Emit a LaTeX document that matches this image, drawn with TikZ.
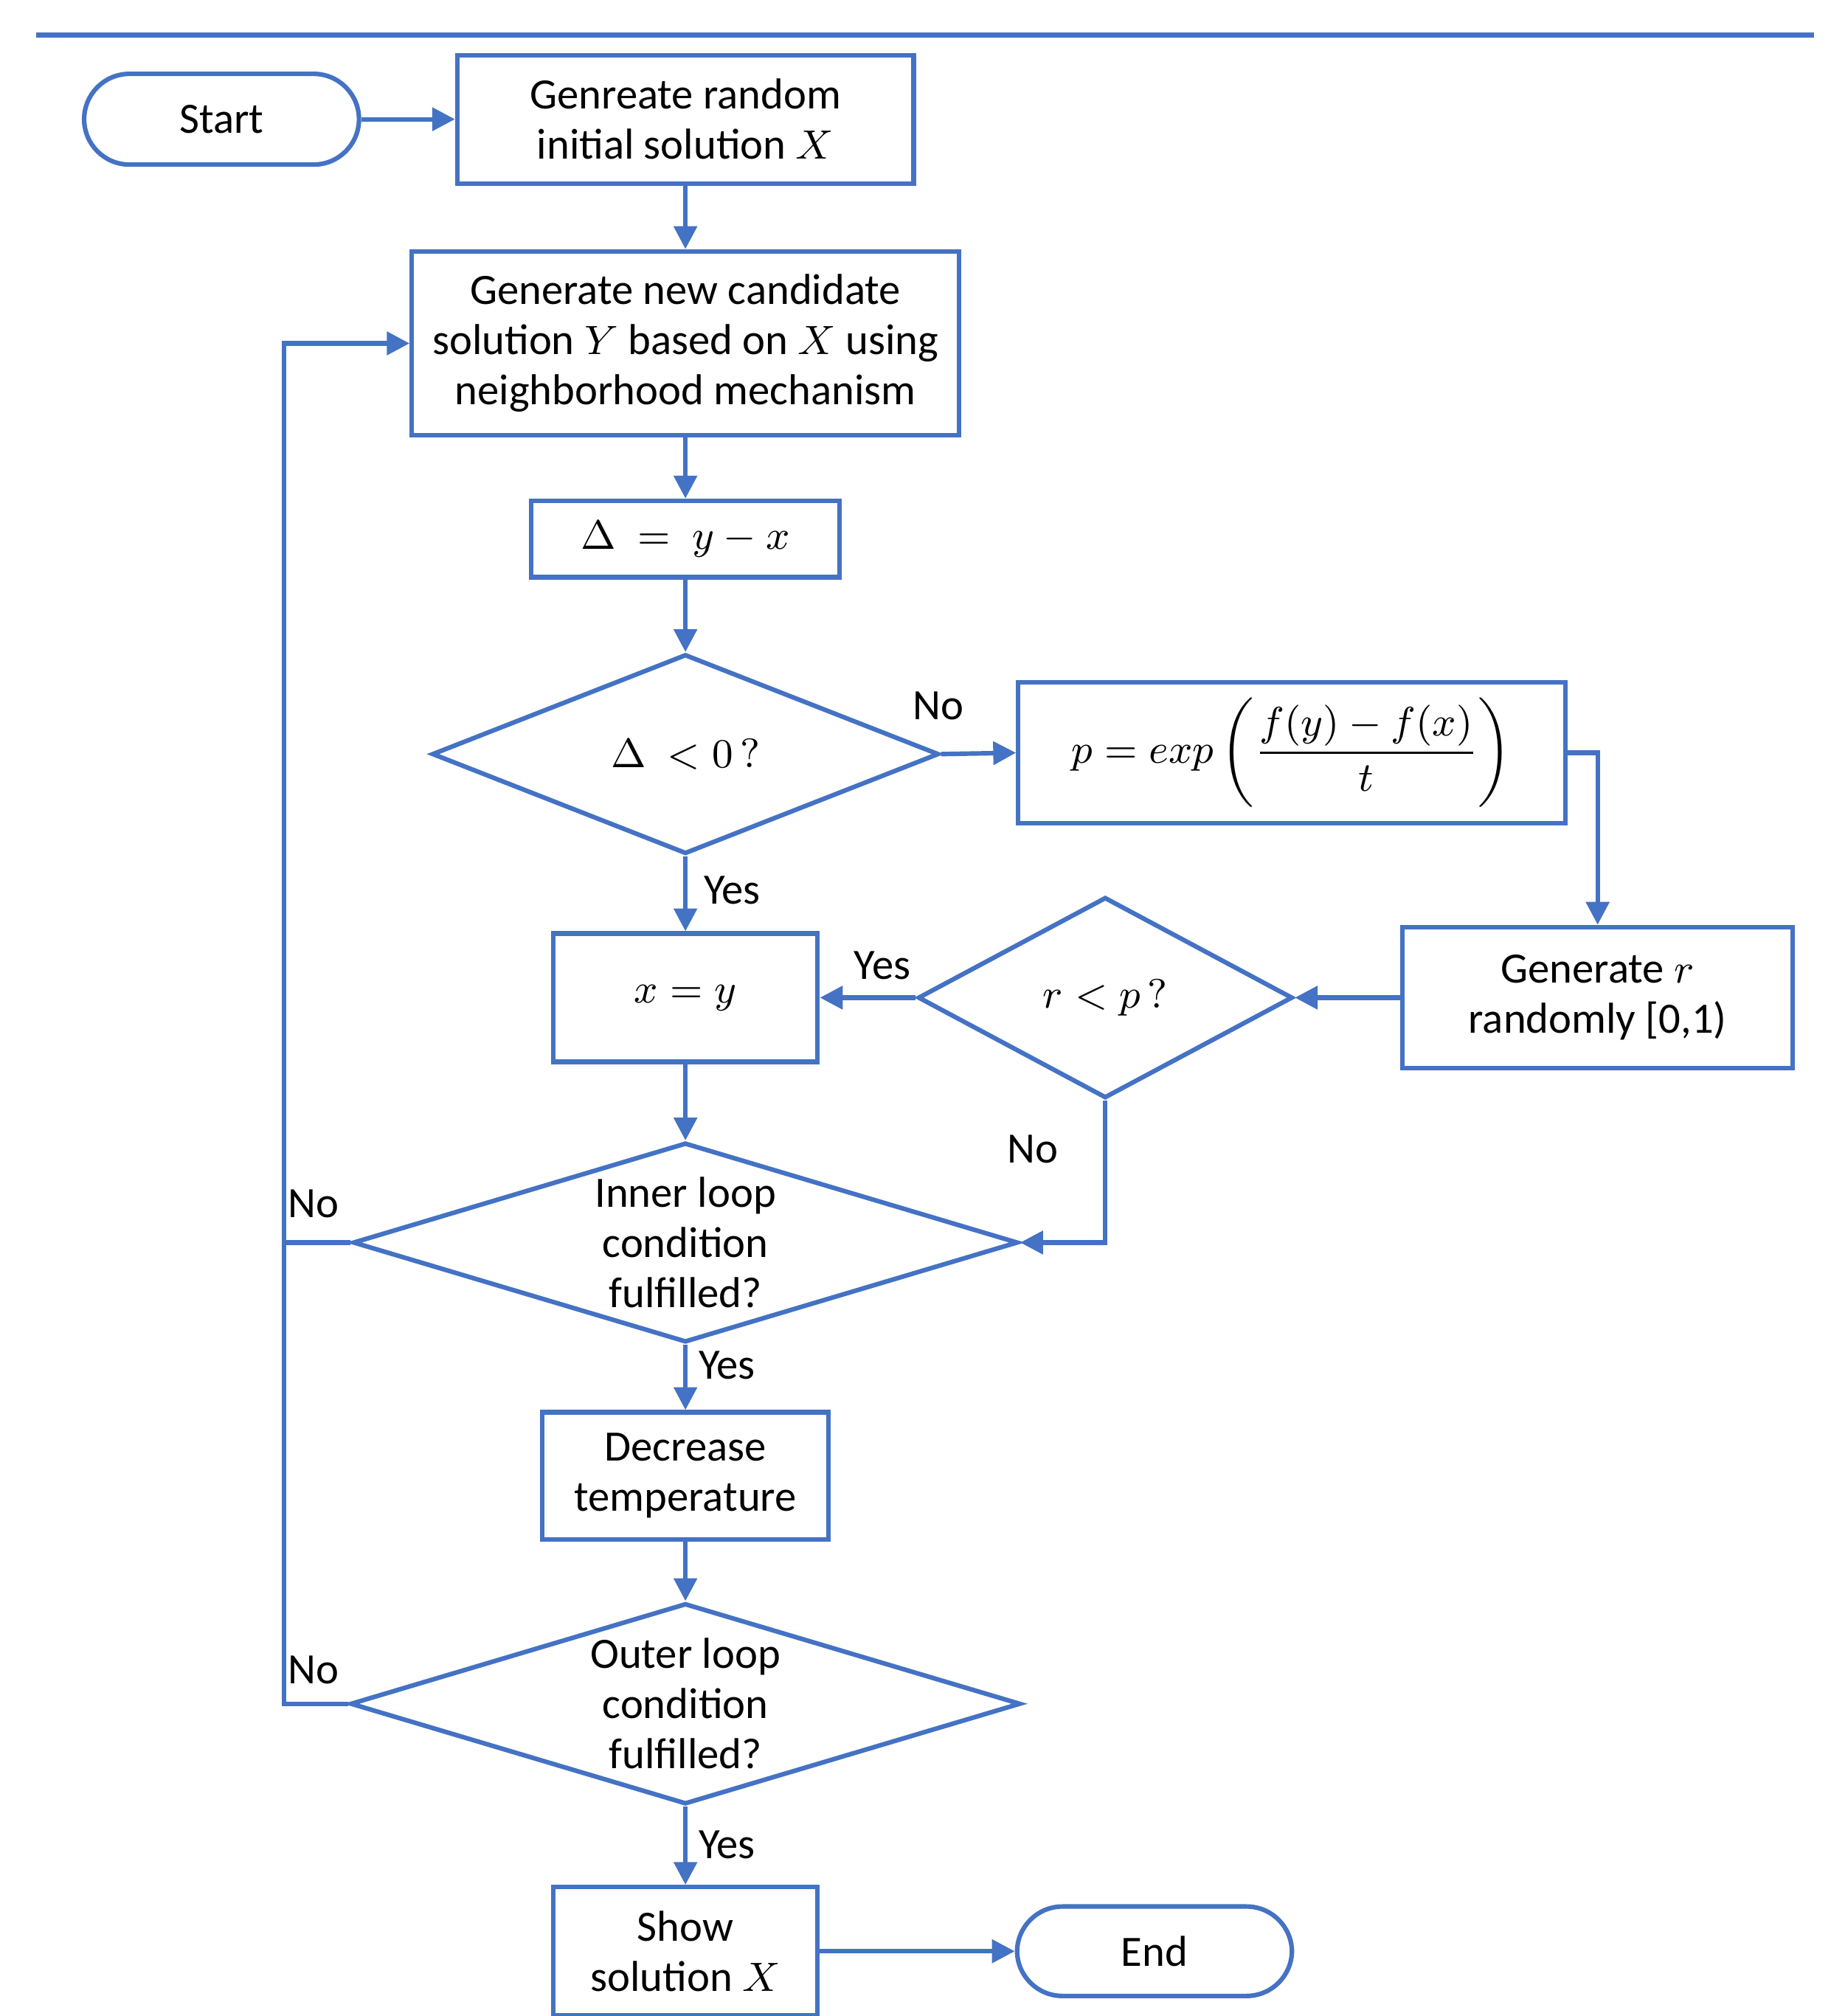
\documentclass[tikz,border=0pt]{standalone}
\usepackage{fontspec}
\setmainfont{Carlito}
\usetikzlibrary{shapes.geometric,arrows.meta}
\definecolor{flow}{RGB}{68,114,196}
\tikzset{
  box/.style={draw=flow,line width=1pt,align=center,inner sep=0pt},
  term/.style={box,rounded corners=0.35cm},
  cond/.style={draw=flow,line width=1pt,diamond,align=center,inner sep=0pt},
  link/.style={draw=flow,line width=1pt,-{Triangle[length=5pt,width=5pt]}},
  tag/.style={font=\fontsize{9.5}{11}\selectfont}
}
\begin{document}
\begin{tikzpicture}[x=0.01cm,y=-0.01cm,font=\fontsize{9.5}{11}\selectfont]
\useasboundingbox (0,0) rectangle (1413,1556);
% top rule
\draw[flow,line width=1pt] (28,27) -- (1400,27);

% nodes
\node[term,minimum width=2.12cm,minimum height=0.70cm] (start) at (171,92) {Start};
\node[box,minimum width=3.52cm,minimum height=0.99cm] (init) at (529,92) {Genreate random\\initial solution $X$};
\node[box,minimum width=4.22cm,minimum height=1.42cm] (cand) at (529,265) {Generate new candidate\\solution $Y$ based on $X$ using\\neighborhood mechanism};
\node[box,minimum width=2.38cm,minimum height=0.59cm] (delta) at (529,416) {$\Delta\ =\ y-x$};
\node[cond,shape aspect=2.54,minimum width=3.91cm,minimum height=1.54cm] (neg) at (529,582) {$\Delta\ <0\,?$};
\node[box,minimum width=4.22cm,minimum height=1.09cm] (prob) at (997,581) {$\displaystyle p = exp\left(\frac{f(y)-f(x)}{t}\right)$};
\node[box,minimum width=3.01cm,minimum height=1.09cm] (rand) at (1233,770) {Generate $r$\\randomly [0,1)};
\node[cond,shape aspect=1.86,minimum width=2.89cm,minimum height=1.55cm] (accept) at (853,770) {$r<p\,?$};
\node[box,minimum width=2.04cm,minimum height=0.99cm] (swap) at (529,770) {$x=y$};
\node[cond,shape aspect=3.33,minimum width=5.13cm,minimum height=1.54cm] (inner) at (529,959) {Inner loop\\condition\\fulfilled?};
\node[box,minimum width=2.21cm,minimum height=0.98cm] (cool) at (529,1139) {Decrease\\temperature};
\node[cond,shape aspect=3.33,minimum width=5.17cm,minimum height=1.55cm] (outer) at (529,1315) {Outer loop\\condition\\fulfilled?};
\node[box,minimum width=2.04cm,minimum height=0.99cm] (show) at (529,1506) {Show\\solution $X$};
\node[term,minimum width=2.12cm,minimum height=0.69cm] (end) at (891,1506) {End};

% connectors
\coordinate (back) at (219,265);
\draw[link] (start) -- (init);
\draw[link] (init) -- (cand);
\draw[link] (cand) -- (delta);
\draw[link] (delta) -- (neg);
\draw[link] (neg.east) -- (prob.west);
\draw[link] (neg.south) -- (swap.north);
\draw[link] (prob.east) -| (rand.north);
\draw[link] (rand.west) -- (accept.east);
\draw[link] (accept.west) -- (swap.east);
\draw[link] (accept.south) |- (inner.east);
\draw[link] (swap) -- (inner.north);
\draw[link] (inner.south) -- (cool.north);
\draw[link] (cool) -- (outer.north);
\draw[link] (outer.south) -- (show.north);
\draw[link] (show) -- (end);
\draw[link] (inner.west) -| (back) -- (cand.west);
\draw[flow,line width=1pt] (outer.west) -| (back);

% labels
\node[tag] (n1) at (724,545) {No};
\node[tag] (y1) at (565,687) {Yes};
\node[tag] (y2) at (681,745) {Yes};
\node[tag] (n2) at (797,887) {No};
\node[tag] (n3) at (242,929) {No};
\node[tag] (y3) at (561,1054) {Yes};
\node[tag] (n4) at (242,1289) {No};
\node[tag] (y4) at (561,1424) {Yes};
\end{tikzpicture}
\end{document}
